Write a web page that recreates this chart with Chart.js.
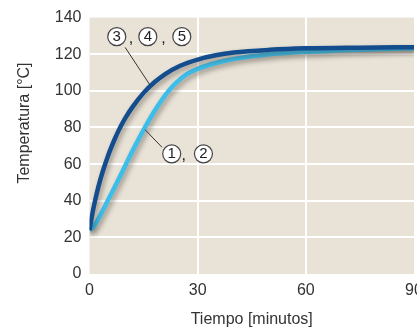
<!DOCTYPE html>
<html>
<head>
<meta charset="utf-8">
<script src="https://cdn.jsdelivr.net/npm/chart.js@4"></script>
<style>
  html, body { margin: 0; padding: 0; background: #fff; overflow: hidden; }
  #wrap { width: 417px; height: 330px; }
</style>
</head>
<body>
<div id="wrap"><canvas id="tempChart"></canvas></div>
<script>
// tiempo en minutos
const minutosOscuro = [0, 1, 2, 3, 4, 5, 6, 7, 8, 9, 10, 12, 15, 18, 21, 25, 30, 35, 40, 50, 60, 75, 90];
const curvaOscura   = [24, 35, 44, 51.5, 58, 63.8, 69, 73.7, 78, 81.9, 85.4, 91.4, 98.9, 104.7, 109.2, 113.6, 117.1, 119.4, 120.9, 122.4, 123.2, 123.6, 123.8];

const minutosClaro = [0, 1, 2, 3, 4, 5, 6, 8, 10, 12, 14, 16, 18, 20, 22, 24, 27, 30, 35, 40, 45, 50, 60, 75, 90];
const curvaClara   = [24, 25.5, 28.5, 32.1, 35.9, 39.8, 43.7, 51.5, 59.5, 67.5, 75.1, 82.3, 88.9, 94.9, 100.1, 104.3, 109.1, 112, 115.2, 117.4, 118.9, 120, 121.3, 122.5, 123.3];

const xTicks = [0, 30, 60, 90];
const yTicks = [0, 20, 40, 60, 80, 100, 120, 140];

const toPoints = (xs, ys) => xs.map((x, i) => ({ x: x, y: ys[i] }));

const fontFamily = "'Liberation Sans', Arial, Helvetica, sans-serif";
const textColor = '#333';

// fondo beige del area de la grafica
const fondo = {
    id: 'fondo',
    beforeDraw(chart) {
        const { ctx, chartArea: a } = chart;
        ctx.save();
        ctx.fillStyle = '#e8e2d7';
        ctx.fillRect(a.left, a.top, a.right - a.left, a.bottom - a.top);
        ctx.restore();
    }
};

// sombra bajo las curvas
const sombra = {
    id: 'sombra',
    beforeDatasetsDraw(chart) {
        const ctx = chart.ctx;
        ctx.save();
        ctx.shadowColor = 'rgba(60, 50, 40, 0.45)';
        ctx.shadowBlur = 5;
        ctx.shadowOffsetX = 2;
        ctx.shadowOffsetY = 3;
    },
    afterDatasetsDraw(chart) {
        chart.ctx.restore();
    }
};

// etiquetas con numeros en circulo y lineas guia
const etiquetas = {
    id: 'etiquetas',
    afterDatasetsDraw(chart) {
        const { ctx, scales: { x, y } } = chart;
        const px = v => x.getPixelForValue(v);
        const py = v => y.getPixelForValue(v);
        ctx.save();
        ctx.strokeStyle = '#333';
        ctx.lineWidth = 1;
        ctx.beginPath();
        ctx.moveTo(px(9.9), py(123.7));
        ctx.lineTo(px(16.8), py(103.1));
        ctx.moveTo(px(20.1), py(69.2));
        ctx.lineTo(px(15.4), py(78.8));
        ctx.stroke();

        const circulo = (t, v, txt) => {
            const cx = px(t), cy = py(v);
            ctx.beginPath();
            ctx.arc(cx, cy, 9, 0, Math.PI * 2);
            ctx.fillStyle = '#fff';
            ctx.fill();
            ctx.strokeStyle = '#444';
            ctx.lineWidth = 1.2;
            ctx.stroke();
            ctx.fillStyle = '#222';
            ctx.font = '15px ' + fontFamily;
            ctx.textAlign = 'center';
            ctx.textBaseline = 'middle';
            ctx.fillText(txt, cx, cy + 0.5);
        };
        const coma = (t, v) => {
            ctx.fillStyle = '#222';
            ctx.font = '16px ' + fontFamily;
            ctx.textAlign = 'center';
            ctx.textBaseline = 'middle';
            ctx.fillText(',', px(t), py(v));
        };
        circulo(7.56, 129.6, '3');
        coma(11.5, 128.5);
        circulo(16.17, 129.6, '4');
        coma(20.5, 128.5);
        circulo(25.6, 129.6, '5');

        circulo(22.8, 65.6, '1');
        coma(26.1, 64.5);
        circulo(31.6, 65.6, '2');
        ctx.restore();
    }
};

// titulo del eje y
const tituloY = {
    id: 'tituloY',
    afterDraw(chart) {
        const ctx = chart.ctx;
        ctx.save();
        ctx.translate(25, 123);
        ctx.rotate(-Math.PI / 2);
        ctx.fillStyle = textColor;
        ctx.font = '16px ' + fontFamily;
        ctx.textAlign = 'center';
        ctx.textBaseline = 'middle';
        ctx.fillText('Temperatura [°C]', 0, 0);
        ctx.restore();
    }
};

const gridColor = (edges) => (c) => edges.includes(c.tick.value) ? 'rgba(0,0,0,0)' : '#ffffff';

const ctx = document.getElementById('tempChart').getContext('2d');
const tempChart = new Chart(ctx, {
    type: 'line',
    data: {
        datasets: [{
            label: '3, 4, 5',
            data: toPoints(minutosOscuro, curvaOscura),
            borderColor: '#144d8e',
            borderWidth: 4.5,
            pointRadius: 0,
            fill: false,
            cubicInterpolationMode: 'monotone'
        }, {
            label: '1, 2',
            data: toPoints(minutosClaro, curvaClara),
            borderColor: '#3dbdea',
            borderWidth: 4.5,
            pointRadius: 0,
            fill: false,
            cubicInterpolationMode: 'monotone'
        }]
    },
    options: {
        responsive: true,
        maintainAspectRatio: false,
        animation: false,
        layout: {
            padding: { top: 14, right: 3, bottom: 0, left: 0 }
        },
        plugins: {
            legend: { display: false },
            tooltip: { enabled: false }
        },
        scales: {
            x: {
                type: 'linear',
                min: 0,
                max: 90,
                afterBuildTicks: (s) => { s.ticks = xTicks.map(v => ({ value: v })); },
                afterFit: (s) => { s.paddingRight = 0; s.height = 56; },
                grid: {
                    color: gridColor([0, 90]),
                    lineWidth: 2,
                    drawTicks: false
                },
                border: { display: false },
                ticks: {
                    color: textColor,
                    padding: 7,
                    maxRotation: 0,
                    font: { family: fontFamily, size: 16 }
                },
                title: {
                    display: true,
                    text: 'Tiempo [minutos]',
                    color: textColor,
                    padding: { top: 0, bottom: 1 },
                    font: { family: fontFamily, size: 16 }
                }
            },
            y: {
                min: 0,
                max: 140,
                afterBuildTicks: (s) => { s.ticks = yTicks.map(v => ({ value: v })); },
                afterFit: (s) => { s.width = 89.5; },
                grid: {
                    color: gridColor([0, 140]),
                    lineWidth: 2,
                    drawTicks: false
                },
                border: { display: false },
                ticks: {
                    color: textColor,
                    padding: 8,
                    font: { family: fontFamily, size: 16 }
                }
            }
        }
    },
    plugins: [fondo, sombra, etiquetas, tituloY]
});
</script>
</body>
</html>
